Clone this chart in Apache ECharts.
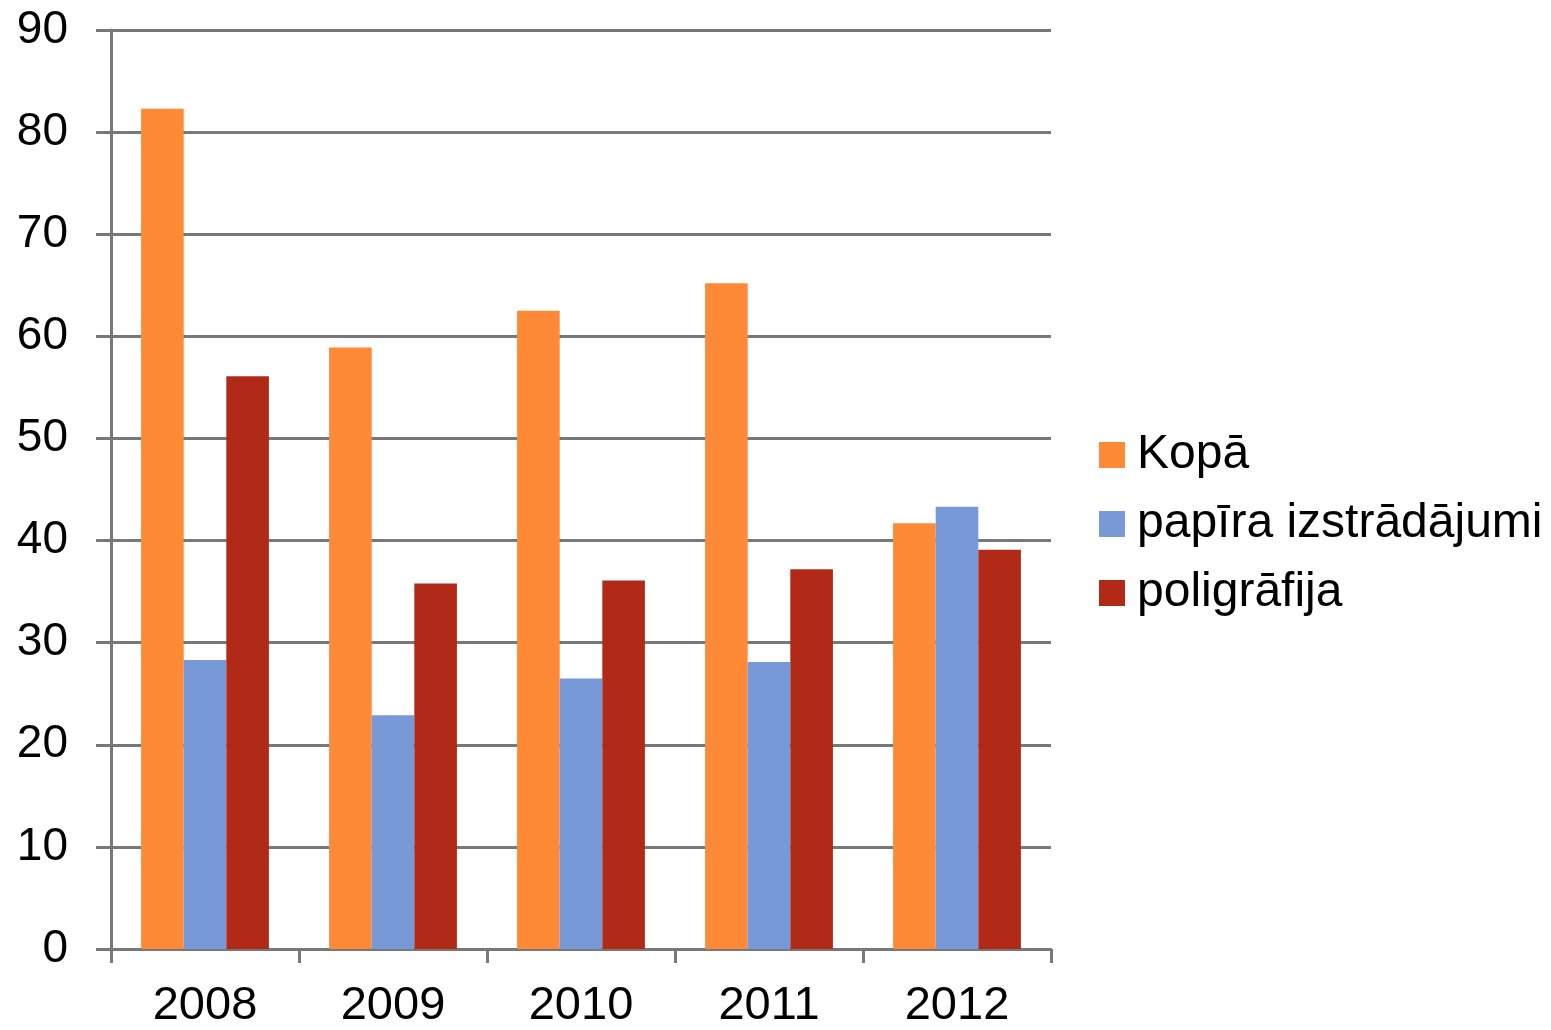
<!DOCTYPE html>
<html>
<head>
<meta charset="utf-8">
<script src="https://cdn.jsdelivr.net/npm/echarts@6/dist/echarts.min.js"></script>
<style>html,body{margin:0;padding:0;background:#fff;}#c{width:1551px;height:1030px;}</style>
</head>
<body>
<div id="c"></div>
<script>
const years = ['2008', '2009', '2010', '2011', '2012'];
const seriesNames = ['Kopā', 'papīra izstrādājumi', 'poligrāfija'];
const kopa = [82.3, 58.9, 62.5, 65.2, 41.7];
const papira = [28.3, 22.9, 26.5, 28.1, 43.3];
const poligrafija = [56.1, 35.8, 36.1, 37.2, 39.1];
const colors = ['#FE8A37', '#7799D7', '#B02A17'];

const chart = echarts.init(document.getElementById('c'));
const font = 'Liberation Sans, Arial, sans-serif';
const grey = '#787878';
chart.setOption({
  animation: false,
  backgroundColor: '#ffffff',
  color: colors,
  grid: { left: 111, right: 500, top: 30, bottom: 78 },
  legend: {
    orient: 'vertical',
    left: 1099, top: 431,
    padding: 0,
    itemWidth: 26, itemHeight: 26, itemGap: 21,
    icon: 'rect',
    textStyle: { fontFamily: font, fontSize: 48, color: '#000', padding: [0, 0, 0, 7] },
    data: seriesNames
  },
  xAxis: {
    type: 'category',
    data: years,
    axisLine: { lineStyle: { color: grey, width: 3 } },
    axisTick: { show: true, length: 14, lineStyle: { color: grey, width: 3 } },
    axisLabel: { fontFamily: font, fontSize: 47, color: '#000', margin: 34 }
  },
  yAxis: {
    type: 'value', min: 0, max: 90, interval: 10,
    axisLine: { show: true, lineStyle: { color: grey, width: 3 } },
    axisTick: { show: true, length: 15, lineStyle: { color: grey, width: 3 } },
    splitLine: { lineStyle: { color: grey, width: 3 } },
    axisLabel: { fontFamily: font, fontSize: 46, color: '#000', margin: 43 }
  },
  series: [
    { name: seriesNames[0], type: 'bar', data: kopa, barGap: '0%', barCategoryGap: '32%' },
    { name: seriesNames[1], type: 'bar', data: papira, barGap: '0%', barCategoryGap: '32%' },
    { name: seriesNames[2], type: 'bar', data: poligrafija, barGap: '0%', barCategoryGap: '32%' }
  ]
});
</script>
</body>
</html>
